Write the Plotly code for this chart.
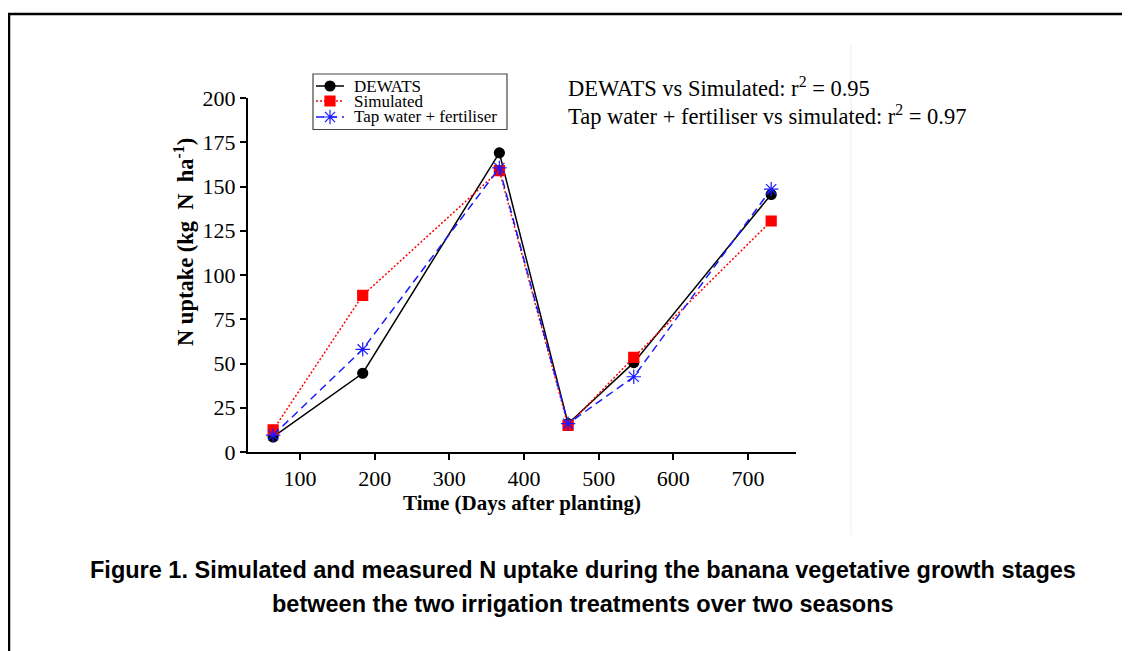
import plotly.graph_objects as go

# ---- data ----
days = [64, 184, 367, 459, 547, 731]
dewats = [8.5, 44.5, 169, 16, 50.5, 145.5]
simulated = [12.5, 88.5, 159, 15, 53.5, 130.5]
tap_fert = [9.5, 58, 160.5, 16, 42.5, 148.5]

series_names = ["DEWATS", "Simulated", "Tap water + fertiliser"]
x_ticks = [100, 200, 300, 400, 500, 600, 700]
y_ticks = [0, 25, 50, 75, 100, 125, 150, 175, 200]

W, H = 1130, 651
OFF = 8  # page body margin
L, R, T, B = 248, 796, 98, 452  # axes area in page pixels
TOP = 68  # top of the (extended) plotting region in page pixels


def px(x):
    return (x - L) / (R - L)


def py(y):
    return (B - y) / (B - TOP)


serif = "Liberation Serif, Times New Roman, serif"
sans = "Liberation Sans, Arial, sans-serif"

colors = ["black", "#ff0000", "#1a1aff"]
dashes = ["solid", "2px,2px", "8px,5px"]
symbols = ["circle", "square", "asterisk-open"]
sizes = [10, 10, 12]

fig = go.Figure()
for name, ys, c, d, s, sz in zip(series_names, [dewats, simulated, tap_fert],
                                 colors, dashes, symbols, sizes):
    fig.add_trace(go.Scatter(
        x=days, y=ys, name=name, mode="lines+markers", showlegend=False,
        line=dict(color=c, width=1.5, dash=d),
        marker=dict(symbol=s, size=sz, color=c, line=dict(color=c, width=1.2))))

# manual legend (page-pixel overlay axes)
leg_y = [86, 101, 117]
for name, c, d, s, sz, yy in zip(series_names, colors, dashes, symbols, sizes, leg_y):
    fig.add_shape(type="line", xref="paper", yref="paper",
                  x0=px(316), x1=px(344), y0=py(yy), y1=py(yy),
                  line=dict(color=c, width=1.5, dash=d))
    fig.add_trace(go.Scatter(
        x=[330], y=[yy], xaxis="x2", yaxis="y2", mode="markers",
        showlegend=False, cliponaxis=False, hoverinfo="skip",
        marker=dict(symbol=s, size=sz, color=c, line=dict(color=c, width=1.2))))
    fig.add_annotation(xref="paper", yref="paper", x=px(352), y=py(yy),
                       xanchor="left", yanchor="middle", showarrow=False,
                       text=name, font=dict(family=serif, size=17, color="black"))
fig.add_shape(type="rect", xref="paper", yref="paper",
              x0=px(313), x1=px(507), y0=py(74), y1=py(129.5),
              line=dict(color="#444444", width=1.2), fillcolor="rgba(0,0,0,0)")

x0 = 100 + (L - 300) / 0.7467
x1 = 100 + (R - 300) / 0.7467

fig.update_layout(
    width=W, height=H,
    margin=dict(l=L - OFF, r=W - (R - OFF), t=TOP - OFF, b=H - (B - OFF), pad=0,
                autoexpand=False),
    paper_bgcolor="white", plot_bgcolor="rgba(0,0,0,0)",
    font=dict(family=serif, color="black"),
    showlegend=False,
    xaxis=dict(domain=[0, 1], anchor="y", range=[x0, x1], tickvals=x_ticks,
               showgrid=False, zeroline=False, showline=True, linecolor="black",
               linewidth=2, ticks="outside", ticklen=6, tickwidth=1.5,
               tickcolor="black", tickfont=dict(family=serif, size=22),
               title=dict(text="<b>Time (Days after planting)</b>",
                          font=dict(family=serif, size=21), standoff=2)),
    yaxis=dict(domain=[0, py(T)], anchor="x", range=[0, 200], tickvals=y_ticks,
               showgrid=False, zeroline=False, showline=True, linecolor="black",
               linewidth=2, ticks="outside", ticklen=6, tickwidth=1.5,
               tickcolor="black", tickfont=dict(family=serif, size=22)),
    xaxis2=dict(domain=[0, 1], anchor="y2", range=[L, R],
                visible=False, fixedrange=True),
    yaxis2=dict(domain=[0, 1], anchor="x2", range=[B, TOP],
                visible=False, fixedrange=True),
)

# y-axis title (placed as in reference, above the axis centre)
fig.add_annotation(xref="paper", yref="paper", x=px(200), y=py(242),
                   xanchor="right", yanchor="middle", showarrow=False,
                   textangle=-90,
                   text="<b>N uptake (kg  N  ha<sup>-1</sup>)</b>",
                   font=dict(family=serif, size=22.5, color="black"))

fig.add_annotation(xref="paper", yref="paper", x=px(566), y=py(87),
                   xanchor="left", yanchor="middle", showarrow=False,
                   text="DEWATS vs Simulated: r<sup>2</sup> = 0.95",
                   font=dict(family=serif, size=22.5, color="black"))
fig.add_annotation(xref="paper", yref="paper", x=px(566), y=py(115),
                   xanchor="left", yanchor="middle", showarrow=False,
                   text="Tap water + fertiliser vs simulated: r<sup>2</sup> = 0.97",
                   font=dict(family=serif, size=22.5, color="black"))

fig.add_annotation(xref="paper", yref="paper", x=px(583), y=py(570),
                   xanchor="center", yanchor="middle", showarrow=False,
                   text="<b>Figure 1. Simulated and measured N uptake during the banana vegetative growth stages</b>",
                   font=dict(family=sans, size=23.5, color="black"))
fig.add_annotation(xref="paper", yref="paper", x=px(583), y=py(604),
                   xanchor="center", yanchor="middle", showarrow=False,
                   text="<b>between the two irrigation treatments over two seasons</b>",
                   font=dict(family=sans, size=23.5, color="black"))

# outer frame (left and top edges)
fig.add_shape(type="line", xref="paper", yref="paper",
              x0=px(OFF + 1), y0=py(H + 20), x1=px(OFF + 1), y1=py(14),
              line=dict(color="black", width=2.5))
fig.add_shape(type="line", xref="paper", yref="paper",
              x0=px(OFF), y0=py(14), x1=px(W + 20), y1=py(14),
              line=dict(color="black", width=2.5))
# faint edge of embedded image
fig.add_shape(type="line", xref="paper", yref="paper",
              x0=px(851), y0=py(45), x1=px(851), y1=py(535),
              line=dict(color="#eeeeee", width=1))

fig.write_html("out.html")
